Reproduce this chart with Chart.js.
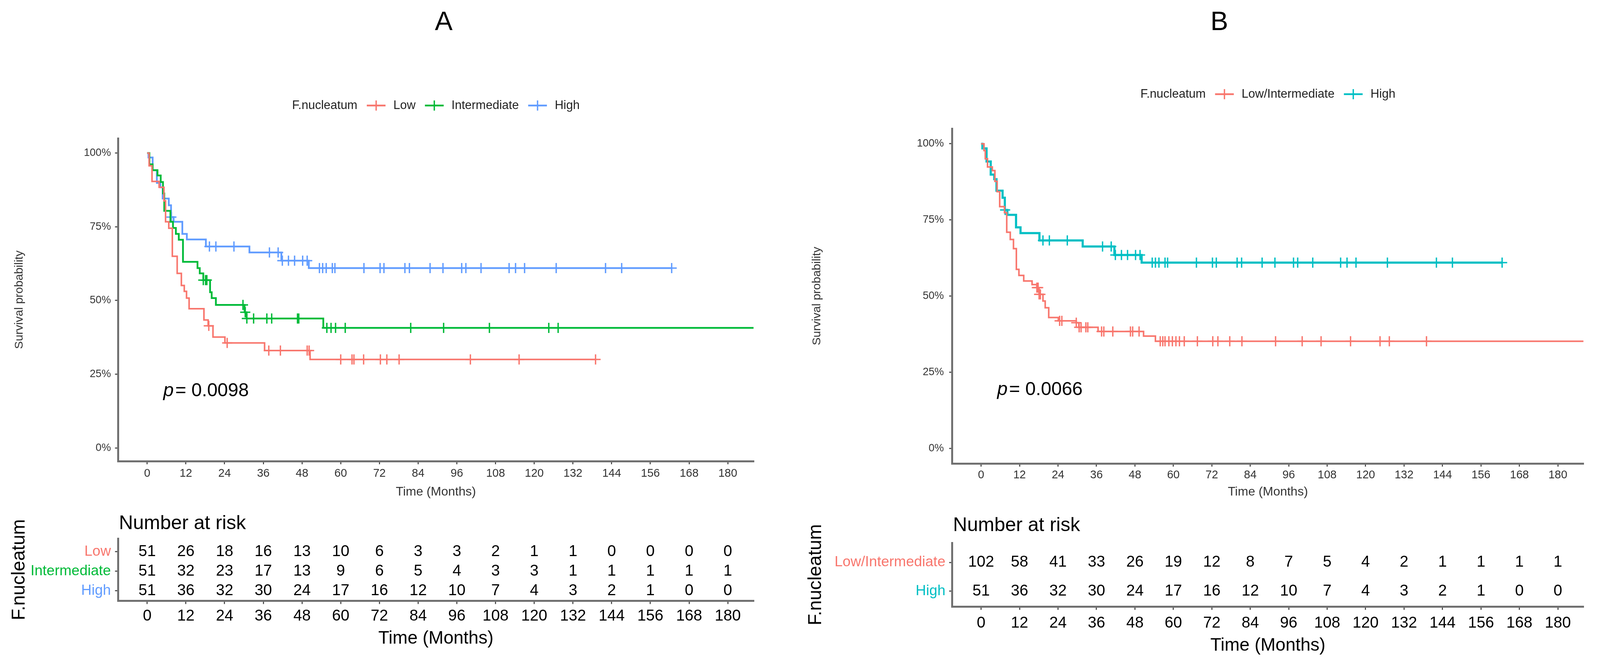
<!DOCTYPE html>
<html><head><meta charset="utf-8">
<script src="https://cdn.jsdelivr.net/npm/chart.js@4.4.1/dist/chart.umd.min.js"></script>
<style>
html,body{margin:0;padding:0;background:#fff;}
body{height:1717px;position:relative;overflow:hidden;}
canvas{position:absolute;}
</style></head><body>
<canvas id="kmA"></canvas>
<canvas id="riskA"></canvas>
<canvas id="kmB"></canvas>
<canvas id="riskB"></canvas>
<script>
// ---- data ----
const timeTicks=[0,12,24,36,48,60,72,84,96,108,120,132,144,156,168,180];
const survTicks=[0,25,50,75,100];

// panel A, Kaplan-Meier steps (months, survival %)
const lowT=[0,0.6,1.5,3.7,5.2,5.7,6.7,7.8,9.3,10.6,11.5,12.2,13.0,17.6,18.9,20.4,24.1,36.4,50.5,139.0];
const lowS=[100,95.7,90.4,88.4,83.8,76.7,74.5,65.0,59.2,55.1,53.1,50.8,47.2,43.4,41.4,37.6,35.6,33.0,30.0,30.0];
const lowCens=[19.1,24.8,37.7,41.3,49.6,50.2,60.0,63.5,64.1,67.1,72.3,74.3,78.1,100.2,115.3,139.0];

const interT=[0,0.7,1.7,3.2,4.2,4.9,5.3,7.2,8.0,8.9,9.8,11.1,15.6,16.3,17.4,19.5,20.0,21.3,30.2,30.8,54.6,188];
const interS=[100,96.2,94.2,92.4,90.2,86.3,80.4,76.7,74.6,72.6,70.6,63.1,61.0,59.2,56.9,52.8,50.8,48.5,46.0,43.9,40.7,40.7];
const interCens=[17.4,18.1,18.5,29.7,30.4,30.9,33.0,37.1,38.6,46.6,47.0,55.7,57.0,58.4,61.4,81.7,91.9,106.1,124.5,127.4];

const highT=[0,0.4,1.7,3.0,4.1,4.8,6.7,7.4,8.2,10.9,12.3,18.2,31.7,41.6,50.1,162.6];
const highS=[100,98.5,94.2,89.9,88.4,84.6,82.3,78.3,76.7,72.6,70.7,68.3,66.3,63.5,61.0,61.0];
const highCens=[7.5,19.3,21.3,26.9,37.9,40.6,41.9,43.8,45.7,48.2,49.6,53.4,54.4,55.5,57.4,58.2,67.2,72.2,73.4,79.9,81.3,87.7,91.7,97.5,98.8,103.5,112.2,114.2,117.0,126.8,142.1,147.1,162.6];

// panel B, Low/Intermediate combined (High is the same group as in A)
const liT=[0,0.9,1.3,2.0,3.5,4.3,5.0,5.8,7.3,8.0,9.1,10.1,11.0,11.8,13.3,15.9,17.4,18.1,19.3,20.0,21.1,24.1,29.7,30.5,36.5,50.7,54.4,188];
const liS=[100,97.8,95.1,92.4,91.2,87.7,84.3,79.4,77.4,71.0,68.6,65.6,58.8,56.8,55.0,53.8,52.8,50.6,48.4,46.2,43.0,41.9,41.3,39.8,38.4,36.9,35.2,35.2];
const liCens=[17.4,17.8,18.1,18.5,24.5,25.2,29.7,30.6,31.2,32.7,33.3,37.6,38.3,41.1,46.6,47.3,49.3,55.9,56.7,57.4,58.6,59.7,60.8,61.9,63.4,67.5,72.3,73.9,77.6,81.4,91.9,100.2,106.1,115.3,124.5,127.4,139.0];

// number at risk
const lowRisk=[51,26,18,16,13,10,6,3,3,2,1,1,0,0,0,0];
const interRisk=[51,32,23,17,13,9,6,5,4,3,3,1,1,1,1,1];
const highRisk=[51,36,32,30,24,17,16,12,10,7,4,3,2,1,0,0];
const lowInterRisk=[102,58,41,33,26,19,12,8,7,5,4,2,1,1,1,1];

const groupsA=['Low','Intermediate','High'];
const groupsB=['Low/Intermediate','High'];
const pA='0.0098', pB='0.0066';

// ---- styling ----
const FONT="'Liberation Sans', Arial, sans-serif";
const RED='#F8766D', GREEN='#00BA38', BLUE='#619CFF', TEAL='#00BFC4';
const AXIS='#707070';
Chart.defaults.font.family=FONT;

// the window may be narrower than the 4266px design, so scale horizontal geometry
const K=Math.min(1,window.innerWidth/4266);
document.body.style.width=Math.round(4266*K)+'px';
function place(id,left,top,w,h){
  const c=document.getElementById(id);
  c.width=Math.round(w*K);c.height=h;
  c.style.left=Math.round(left*K)+'px';c.style.top=top+'px';
  return c;
}

function survAt(T,S,t){let s=S[0];for(let i=0;i<T.length;i++){if(T[i]<=t)s=S[i];}return s;}
function curve(T,S,color,w){
  return {data:T.map((t,i)=>({x:t,y:S[i]})),borderColor:color,borderWidth:w,stepped:true,
    pointRadius:0,fill:false,tension:0,borderCapStyle:'butt',borderJoinStyle:'miter'};
}
function cens(C,T,S,color){
  return {data:C.map(t=>({x:t,y:survAt(T,S,t)})),showLine:false,pointStyle:'cross',
    pointRadius:13,pointBorderWidth:3.5,pointBorderColor:color,pointBackgroundColor:color};
}

const decoCfg={};
const deco={id:'deco',afterDraw(chart){
  const o=decoCfg[chart.canvas.id];if(!o)return;
  const ctx=chart.ctx,ca=chart.chartArea,xs=chart.scales.x,ys=chart.scales.y;
  ctx.save();
  if(o.letter){
    ctx.font='68px '+FONT;ctx.fillStyle='#000';ctx.textAlign='center';ctx.textBaseline='middle';
    ctx.fillText(o.letter,o.letterX*K,58);
  }
  if(o.legend){
    ctx.font='31px '+FONT;ctx.textBaseline='middle';ctx.textAlign='left';
    const wt=ctx.measureText('F.nucleatum').width;
    let total=wt;o.legend.forEach(it=>{total+=24+48+20+ctx.measureText(it.label).width;});
    let x=(ca.left+ca.right)/2-total/2;const y=o.legendY;
    ctx.fillStyle='#222';ctx.fillText('F.nucleatum',x,y);x+=wt+24;
    o.legend.forEach(it=>{
      ctx.strokeStyle=it.color;ctx.lineWidth=4.5;
      ctx.beginPath();ctx.moveTo(x,y);ctx.lineTo(x+48,y);ctx.stroke();
      ctx.lineWidth=3.5;ctx.beginPath();ctx.moveTo(x+24,y-13);ctx.lineTo(x+24,y+13);ctx.stroke();
      x+=48+20;ctx.fillStyle='#222';ctx.fillText(it.label,x,y);
      x+=ctx.measureText(it.label).width+24;
    });
  }
  if(o.p){
    const px=xs.getPixelForValue(5),py=ys.getPixelForValue(19.3);
    ctx.fillStyle='#000';ctx.textBaseline='middle';ctx.textAlign='left';
    ctx.font='italic 48px '+FONT;ctx.fillText('p',px,py);
    const w=ctx.measureText('p').width;
    ctx.font='48px '+FONT;ctx.fillText('= '+o.p,px+w+4,py);
  }
  if(o.rows){
    ctx.font='50px '+FONT;ctx.fillStyle='#000';ctx.textAlign='left';ctx.textBaseline='middle';
    ctx.fillText('Number at risk',ca.left+2,o.headY);
    ctx.font='40px '+FONT;ctx.textAlign='center';
    o.rows.forEach(r=>{
      r.vals.forEach((v,i)=>{ctx.fillText(String(v),xs.getPixelForValue(timeTicks[i]),ys.getPixelForValue(r.y));});
    });
  }
  ctx.restore();
}};

function kmChart(id,sets,o){
  decoCfg[id]=o.deco;
  return new Chart(document.getElementById(id),{type:'line',data:{datasets:sets},
    plugins:[deco],
    options:{responsive:false,animation:false,devicePixelRatio:1,
      layout:{padding:{top:o.top,right:o.right*K,left:0,bottom:0}},
      plugins:{legend:{display:false},tooltip:{enabled:false}},
      scales:{
        x:{type:'linear',min:-9,max:188,
          afterBuildTicks:s=>{s.ticks=timeTicks.map(v=>({value:v}));},
          afterFit:s=>{s.height=o.xh;},
          grid:{display:true,drawOnChartArea:false,tickLength:8,tickColor:'#555',lineWidth:3},
          border:{display:true,color:AXIS,width:5},
          ticks:{padding:o.xpad,color:'#333',font:{size:29},maxRotation:0,autoSkip:false},
          title:{display:true,text:'Time (Months)',color:'#333',font:{size:32},padding:{top:0,bottom:22}}},
        y:{type:'linear',min:o.ymin,max:105,
          afterBuildTicks:s=>{s.ticks=survTicks.map(v=>({value:v}));},
          afterFit:s=>{s.width=o.yw*K;},
          grid:{display:true,drawOnChartArea:false,tickLength:8,tickColor:'#555',lineWidth:3},
          border:{display:true,color:AXIS,width:5},
          ticks:{padding:o.ypad*K,color:'#333',font:{size:27},callback:v=>v+'%'},
          title:{display:true,text:'Survival probability',color:'#333',font:{size:30},padding:{top:o.ytp*K,bottom:0}}}
      }}});
}

function riskChart(id,groups,colors,rows,o){
  decoCfg[id]={rows:rows,headY:o.headY};
  const n=groups.length;
  return new Chart(document.getElementById(id),{type:'line',data:{datasets:[]},
    plugins:[deco],
    options:{responsive:false,animation:false,devicePixelRatio:1,
      layout:{padding:{top:o.top,right:o.right*K,left:0,bottom:0}},
      plugins:{legend:{display:false},tooltip:{enabled:false}},
      scales:{
        x:{type:'linear',min:-9,max:188,
          afterBuildTicks:s=>{s.ticks=timeTicks.map(v=>({value:v}));},
          afterFit:s=>{s.height=o.xh;},
          grid:{display:true,drawOnChartArea:false,tickLength:8,tickColor:'#555',lineWidth:3},
          border:{display:true,color:AXIS,width:5},
          ticks:{padding:o.xpad,color:'#000',font:{size:40},maxRotation:0,autoSkip:false},
          title:{display:true,text:'Time (Months)',color:'#000',font:{size:46},padding:{top:0,bottom:o.xtp}}},
        y:{type:'linear',min:o.ymin,max:o.ymax,
          afterBuildTicks:s=>{s.ticks=groups.map((g,i)=>({value:n-i}));},
          afterFit:s=>{s.width=o.yw*K;},
          grid:{display:true,drawOnChartArea:false,tickLength:8,tickColor:'#555',lineWidth:3},
          border:{display:true,color:AXIS,width:5},
          ticks:{padding:o.ypad*K,font:{size:37},callback:v=>groups[n-v],color:c=>colors[n-c.tick.value]},
          title:{display:true,text:'F.nucleatum',color:'#000',font:{size:48},padding:{top:o.ytp*K,bottom:0}}}
      }}});
}

place('kmA',0,0,2040,1300);
place('riskA',0,1300,2040,417);
place('kmB',2133,0,2133,1300);
place('riskB',2133,1300,2133,417);

kmChart('kmA',[
  curve(lowT,lowS,RED,4),curve(interT,interS,GREEN,4.5),curve(highT,highS,BLUE,4.5),
  cens(lowCens,lowT,lowS,RED),cens(interCens,interT,interS,GREEN),cens(highCens,highT,highS,BLUE)
],{top:354,right:31,xh:120,yw:315,xpad:7,ypad:11,ytp:33,ymin:-4.5,
  deco:{letter:'A',letterX:1183,legendY:270,p:pA,
    legend:[{label:'Low',color:RED},{label:'Intermediate',color:GREEN},{label:'High',color:BLUE}]}});

kmChart('kmB',[
  curve(liT,liS,RED,4),curve(highT,highS,TEAL,5.5),
  cens(liCens,liT,liS,RED),cens(highCens,highT,highS,TEAL)
],{top:329,right:44,xh:114,yw:406,xpad:5,ypad:14,ytp:27,ymin:-4.9,
  deco:{letter:'B',letterX:1118,legendY:241,p:pB,
    legend:[{label:'Low/Intermediate',color:RED},{label:'High',color:TEAL}]}});

riskChart('riskA',groupsA,[RED,GREEN,BLUE],
  [{y:3,vals:lowRisk},{y:2,vals:interRisk},{y:1,vals:highRisk}],
  {top:78,right:31,xh:179.4,yw:315,xpad:7,ypad:11,ytp:22,xtp:55,ymin:0.48,ymax:3.68,headY:40});

riskChart('riskB',groupsB,[RED,TEAL],
  [{y:2,vals:lowInterRisk},{y:1,vals:highRisk}],
  {top:89,right:44,xh:164.5,yw:406,xpad:10,ypad:10,ytp:12,xtp:37,ymin:0.466,ymax:2.676,headY:45});
</script>
</body></html>
